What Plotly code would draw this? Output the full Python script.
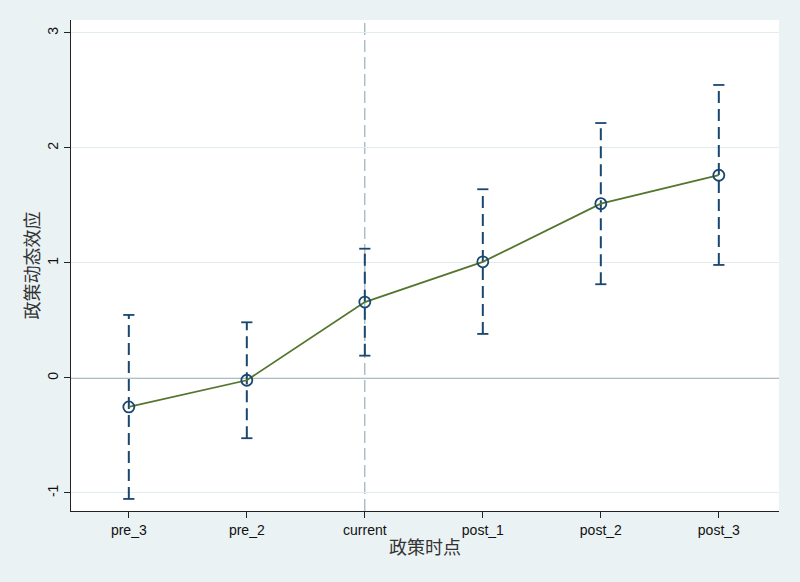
import plotly.graph_objects as go

# 数据
periods = ['pre_3', 'pre_2', 'current', 'post_1', 'post_2', 'post_3']
coef = [-0.252, -0.02, 0.66, 1.01, 1.516, 1.763]
ci_low = [-1.052, -0.524, 0.194, 0.383, 0.815, 0.983]
ci_high = [0.548, 0.484, 1.124, 1.641, 2.217, 2.548]
y_ticks = [-1, 0, 1, 2, 3]
event_period = 'current'

navy = '#1a476f'
green = '#55752f'
bg = '#eaf2f3'

idx = list(range(len(periods)))

# 置信区间竖线 (虚线)
seg_x, seg_y = [], []
for i, lo, hi in zip(idx, ci_low, ci_high):
    seg_x += [i, i, None]
    seg_y += [lo, hi, None]

fig = go.Figure()

fig.add_trace(go.Scatter(
    x=seg_x, y=seg_y, mode='lines',
    line=dict(color=navy, width=2, dash='12px,6px'),
    hoverinfo='skip', showlegend=False
))

# 端点横线
fig.add_trace(go.Scatter(
    x=idx + idx, y=ci_low + ci_high, mode='markers',
    marker=dict(symbol='line-ew', size=8, line=dict(color=navy, width=1.8)),
    hoverinfo='skip', showlegend=False
))

# 系数连线
fig.add_trace(go.Scatter(
    x=idx, y=coef, mode='lines',
    line=dict(color=green, width=1.8),
    showlegend=False
))

fig.add_trace(go.Scatter(
    x=idx, y=coef, mode='markers',
    marker=dict(symbol='circle-open', size=11, color=navy, line=dict(color=navy, width=1.8)),
    showlegend=False
))

# 参考线
fig.add_hline(y=0, line=dict(color='#5f7d8c', width=1.3), layer='below')
fig.add_vline(x=periods.index(event_period), line=dict(color='#86a0a8', width=1, dash='12px,5px'), layer='below')

fig.update_layout(
    width=800, height=582,
    paper_bgcolor=bg, plot_bgcolor='white',
    margin=dict(l=71, r=21, t=20, b=71),
    font=dict(family='Liberation Sans, Arial', size=14, color='#111111'),
    showlegend=False,
)

fig.update_xaxes(
    range=[-0.49, 5.51], automargin=False,
    tickmode='array', tickvals=idx, ticktext=periods,
    ticks='outside', ticklen=6, tickcolor='#222222',
    showline=True, linecolor='#222222', linewidth=1.3,
    showgrid=False, zeroline=False,
    title=dict(text='政策时点', font=dict(family='Noto Sans CJK SC', size=18, color='#333333'), standoff=4),
)

fig.update_yaxes(
    range=[-1.157, 3.113], automargin=False,
    tickmode='array', tickvals=y_ticks, ticktext=[str(t) for t in y_ticks],
    tickangle=-90,
    ticks='outside', ticklen=6, tickcolor='#222222',
    showline=True, linecolor='#222222', linewidth=1.3,
    showgrid=True, gridcolor='#e2ecee', gridwidth=1.2, zeroline=False,
    title=dict(text='政策动态效应', font=dict(family='Noto Sans CJK SC', size=18, color='#333333'), standoff=0),
)

fig.write_html('out.html', config={'displayModeBar': False},
               post_script="document.body.style.margin='0';")
